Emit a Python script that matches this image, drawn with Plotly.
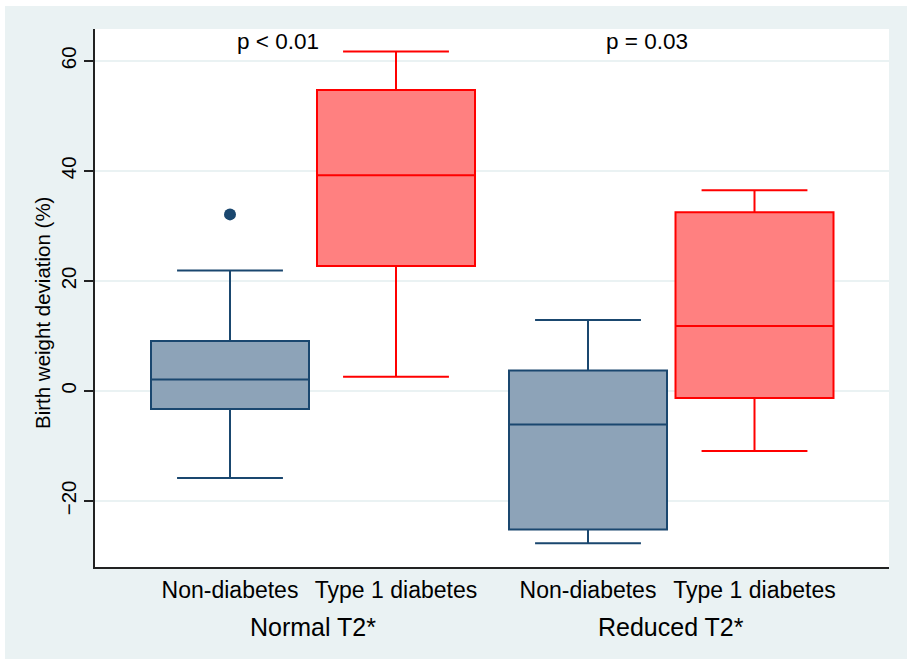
import plotly.graph_objects as go

# Groups and categories
groups = ["Normal T2*", "Reduced T2*"]
categories = ["Non-diabetes", "Type 1 diabetes"]
tick_labels = ["Non-diabetes", "Type 1 diabetes", "Non-diabetes", "Type 1 diabetes"]
p_labels = ["p < 0.01", "p = 0.03"]
y_title = "Birth weight deviation (%)"

# Box statistics: [Normal T2*, Reduced T2*]
non_lower = [-15.8, -27.7]
non_q1 = [-3.3, -25.2]
non_median = [2.1, -6.1]
non_q3 = [9.1, 3.7]
non_upper = [21.9, 12.9]
non_outliers = [32.1]  # Normal T2*, non-diabetes

t1_lower = [2.6, -10.9]
t1_q1 = [22.7, -1.3]
t1_median = [39.2, 11.8]
t1_q3 = [54.7, 32.5]
t1_upper = [61.7, 36.5]

# Layout positions (x-axis units)
non_pos = [1.35, 4.93]
t1_pos = [3.01, 6.595]
group_pos = [2.18, 5.76]
p_pos = [1.825, 5.52]
box_w = 1.58

NAVY = "#1A476F"
NAVY_FILL = "#8DA3B8"
RED = "#FF0000"
RED_FILL = "#FF8080"
BG = "#EAF2F3"
FONT = "Liberation Sans, Arial, sans-serif"

fig = go.Figure()

fig.add_trace(go.Box(
    x=non_pos, q1=non_q1, median=non_median, q3=non_q3,
    lowerfence=non_lower, upperfence=non_upper,
    width=box_w, whiskerwidth=0.67,
    fillcolor=NAVY_FILL, line=dict(color=NAVY, width=2),
    boxpoints=False, name=categories[0], showlegend=False,
))
fig.add_trace(go.Box(
    x=t1_pos, q1=t1_q1, median=t1_median, q3=t1_q3,
    lowerfence=t1_lower, upperfence=t1_upper,
    width=box_w, whiskerwidth=0.67,
    fillcolor=RED_FILL, line=dict(color=RED, width=2),
    boxpoints=False, name=categories[1], showlegend=False,
))
fig.add_trace(go.Scatter(
    x=[non_pos[0]] * len(non_outliers), y=non_outliers, mode="markers",
    marker=dict(color=NAVY, size=12), showlegend=False,
))

W, H = 907, 659
L, R, T, B = 95, 18, 29, 92
pw, ph = W - L - R, H - T - B

shapes = [
    dict(type="rect", xref="paper", yref="paper", layer="below",
         x0=(5 - L) / pw, x1=(W - L) / pw,
         y0=-(B) / ph, y1=1 + (T - 6) / ph,
         fillcolor=BG, line=dict(width=0)),
    dict(type="rect", xref="paper", yref="paper", layer="below",
         x0=0, x1=1, y0=0, y1=1, fillcolor="white", line=dict(width=0)),
]

annotations = []
for g, gx in zip(groups, group_pos):
    annotations.append(dict(x=gx, xref="x", y=-(627 - 567) / ph, yref="paper",
                            text=g, showarrow=False, yanchor="middle",
                            font=dict(size=25, color="black", family=FONT)))
for p, px in zip(p_labels, p_pos):
    annotations.append(dict(x=px, xref="x", y=63.5, yref="y",
                            text=p, showarrow=False, yanchor="middle",
                            font=dict(size=22.5, color="black", family=FONT)))
annotations.append(dict(x=(43 - L) / pw, xref="paper", y=(567 - 313) / ph, yref="paper",
                        text=y_title, textangle=-90, showarrow=False,
                        xanchor="center", yanchor="middle",
                        font=dict(size=20.5, color="black", family=FONT)))

fig.update_layout(
    width=W, height=H,
    margin=dict(l=L, r=R, t=T, b=B, pad=0),
    paper_bgcolor="white", plot_bgcolor="white",
    font=dict(family=FONT, color="black"),
    boxmode="overlay",
    shapes=shapes, annotations=annotations,
    xaxis=dict(
        range=[0, pw / 100], tickvals=non_pos[:1] + t1_pos[:1] + non_pos[1:] + t1_pos[1:],
        ticktext=tick_labels, ticks="", showgrid=False, zeroline=False,
        showline=True, linecolor="#222222", linewidth=1.5,
        tickfont=dict(size=23, family=FONT, color="black"),
        ticklabelstandoff=2,
    ),
    yaxis=dict(
        range=[-32, 65.8], tickvals=[-20, 0, 20, 40, 60],
        ticks="outside", ticklen=9, tickwidth=1.5, tickcolor="#222222",
        tickangle=-90, tickfont=dict(size=20.5, family=FONT, color="black"),
        showgrid=True, gridcolor=BG, gridwidth=1.5, zeroline=False,
        showline=True, linecolor="#222222", linewidth=1.5,
    ),
)

fig.write_html("out.html")
